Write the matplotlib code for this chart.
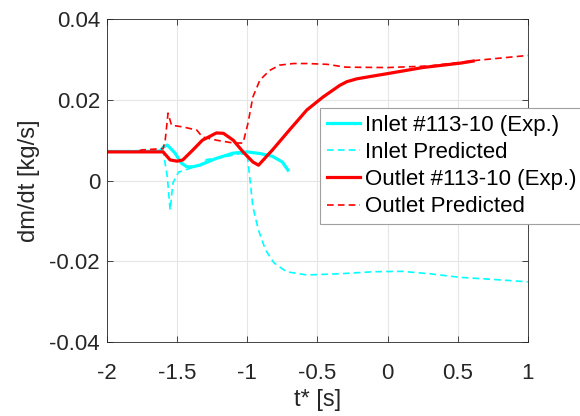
import numpy as np
import matplotlib.pyplot as plt

plt.rcParams['font.family'] = ['Liberation Sans', 'DejaVu Sans']

# values
t_in_exp = [-2.0, -1.8, -1.62, -1.6, -1.57, -1.515, -1.47, -1.43, -1.39, -1.34, -1.22, -1.10, -1.0, -0.91, -0.82, -0.75, -0.71]
m_in_exp = [0.0072, 0.0072, 0.0073, 0.0083, 0.0088, 0.0068, 0.0043, 0.0034, 0.0034, 0.0038, 0.0055, 0.0068, 0.0071, 0.0067, 0.0060, 0.0046, 0.0026]

t_in_pred = [-2.0, -1.8, -1.6, -1.57, -1.55, -1.53, -1.49, -1.41, -1.34, -1.29, -1.17, -1.05, -1.0, -0.98, -0.96, -0.92, -0.87, -0.81, -0.72, -0.575, -0.34, -0.1, 0.1, 0.3, 0.52, 0.75, 1.0]
m_in_pred = [0.0072, 0.0072, 0.0073, 0.0009, -0.0073, -0.0006, 0.0021, 0.0030, 0.0038, 0.0052, 0.0058, 0.0067, 0.0062, 0.0000, -0.0066, -0.0123, -0.0172, -0.0204, -0.0226, -0.0234, -0.0231, -0.0226, -0.0225, -0.0231, -0.0240, -0.0245, -0.0251]

t_out_exp = [-2.0, -1.8, -1.6, -1.55, -1.5, -1.46, -1.39, -1.32, -1.22, -1.17, -1.10, -1.03, -0.96, -0.92, -0.82, -0.70, -0.575, -0.46, -0.34, -0.29, -0.22, -0.12, 0.0, 0.25, 0.52, 0.61]
m_out_exp = [0.0071, 0.0071, 0.0071, 0.0051, 0.0048, 0.0051, 0.0075, 0.0100, 0.0118, 0.0117, 0.0100, 0.0071, 0.0046, 0.0038, 0.0076, 0.0125, 0.0175, 0.0207, 0.0236, 0.0245, 0.0252, 0.0258, 0.0265, 0.0280, 0.0291, 0.0296]

t_out_pred = [-2.0, -1.8, -1.75, -1.6, -1.585, -1.565, -1.54, -1.46, -1.36, -1.32, -1.22, -1.10, -1.03, -0.995, -0.96, -0.91, -0.84, -0.77, -0.67, -0.575, -0.43, -0.3, 0.0, 0.3, 0.64, 1.0]
m_out_pred = [0.0071, 0.0071, 0.0076, 0.0079, 0.0100, 0.0167, 0.0137, 0.0133, 0.0125, 0.0108, 0.0100, 0.0093, 0.0093, 0.0142, 0.0207, 0.0249, 0.0273, 0.0286, 0.0290, 0.0290, 0.0288, 0.0281, 0.0280, 0.0284, 0.0298, 0.0310]

labels = ['Inlet #113-10 (Exp.)', 'Inlet Predicted', 'Outlet #113-10 (Exp.)', 'Outlet Predicted']

fig = plt.figure(figsize=(5.8, 4.16), dpi=100)
ax = fig.add_axes([0.1845, 0.178, 0.7255, 0.776])

ax.plot(t_in_exp, m_in_exp, color=(0, 1, 1), lw=2.3, label=labels[0])
ax.plot(t_in_pred, m_in_pred, color=(0, 1, 1), lw=1.2, ls=(0, (4, 2.5)), label=labels[1])
ax.plot(t_out_exp, m_out_exp, color=(1, 0, 0), lw=2.3, label=labels[2])
ax.plot(t_out_pred, m_out_pred, color=(1, 0, 0), lw=1.2, ls=(0, (4, 2.5)), label=labels[3])

ax.set_xlim(-2, 1)
ax.set_ylim(-0.04, 0.04)
ax.set_xticks([-2, -1.5, -1, -0.5, 0, 0.5, 1])
ax.set_xticklabels(['-2', '-1.5', '-1', '-0.5', '0', '0.5', '1'])
ax.set_yticks([-0.04, -0.02, 0, 0.02, 0.04])
ax.set_yticklabels(['-0.04', '-0.02', '0', '0.02', '0.04'])
ax.grid(True, color='#e6e6e6', lw=0.8)
ax.set_axisbelow(True)
ax.tick_params(direction='in', top=True, right=True, labelsize=16, colors='#262626', length=4, width=0.6)
ax.tick_params(axis='x', pad=15)
ax.tick_params(axis='y', pad=5)
for s in ax.spines.values():
    s.set_color('#262626')
    s.set_linewidth(0.6)

ax.set_xlabel('t* [s]', fontsize=17, color='#262626', labelpad=4)
ax.set_ylabel('dm/dt [kg/s]', fontsize=17, color='#262626', labelpad=7)

leg = ax.legend(loc='upper left', bbox_to_anchor=(0.552, 0.74), bbox_transform=fig.transFigure,
                fontsize=16, handlelength=1.5, handletextpad=0.2, labelspacing=0.28,
                borderpad=0.3, borderaxespad=0, fancybox=False, framealpha=1)
leg.get_frame().set_edgecolor('#a0a0a0')
leg.get_frame().set_linewidth(0.8)

fig.savefig('out.png', dpi=100)
